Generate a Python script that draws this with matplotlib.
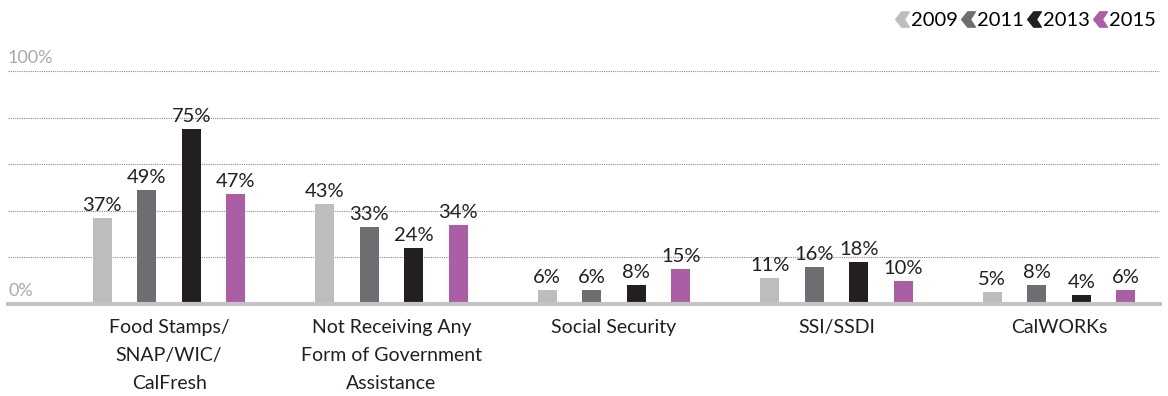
import numpy as np
import matplotlib.pyplot as plt
from matplotlib.lines import Line2D
from matplotlib.path import Path

plt.rcParams['font.family'] = ['Lato', 'DejaVu Sans']

categories = [
    "Food Stamps/\nSNAP/WIC/\nCalFresh",
    "Not Receiving Any\nForm of Government\nAssistance",
    "Social Security",
    "SSI/SSDI",
    "CalWORKs",
]
years = ["2009", "2011", "2013", "2015"]
values_2009 = [37, 43, 6, 11, 5]
values_2011 = [49, 33, 6, 16, 8]
values_2013 = [75, 24, 8, 18, 4]
values_2015 = [47, 34, 15, 10, 6]
colors = ["#bcbdbf", "#6d6e71", "#231f20", "#ab5ea6"]

series = [values_2009, values_2011, values_2013, values_2015]

fig = plt.figure(figsize=(11.68, 3.96), dpi=100)
ax = fig.add_axes([0.00685, 0.2323, 0.9863, 0.5884])

x = np.arange(len(categories))
offsets = np.array([-1.5, -0.5, 0.5, 1.5]) * 0.2
width = 0.086

for vals, off, col in zip(series, offsets, colors):
    bars = ax.bar(x + off, vals, width, color=col, zorder=3)
    for b, v in zip(bars, vals):
        ax.annotate(f"{v}%", (b.get_x() + b.get_width() / 2, v),
                    xytext=(0, 3), textcoords="offset points",
                    ha="center", va="bottom", fontsize=14.5, color="#231f20")

ax.set_xlim(-0.724, 4.454)
ax.set_ylim(0, 100)

# dotted gridlines and a solid baseline
for g in [20, 40, 60, 80, 100]:
    ax.axhline(g, color="#8a8a8a", lw=0.8, ls=(0, (1, 1)), zorder=1)
ax.axhline(0, color="#c4c4c4", lw=3, zorder=4, clip_on=False)

trans = ax.get_yaxis_transform()
ax.text(0.0, 102, "100%", transform=trans, ha="left", va="bottom",
        fontsize=13, color="#a7a9ac")
ax.text(0.0, 2, "0%", transform=trans, ha="left", va="bottom",
        fontsize=13, color="#a7a9ac")

for xi, label in zip(x, categories):
    ax.text(xi, -6.5, label, ha="center", va="top", fontsize=14,
            color="#231f20", linespacing=1.78)

for s in ax.spines.values():
    s.set_visible(False)
ax.set_xticks([])
ax.set_yticks([])

# chevron-shaped legend markers, centred on the origin
chevron = Path([(0.9, 1.0), (-0.1, 1.0), (-0.9, 0.0), (-0.1, -1.0),
                (0.9, -1.0), (0.25, 0.0), (0.9, 1.0)],
               [Path.MOVETO] + [Path.LINETO] * 5 + [Path.CLOSEPOLY])
handles = [Line2D([], [], marker=chevron, color=c, ls="none", markersize=11)
           for c in colors]
fig.legend(handles, years, loc="upper right", bbox_to_anchor=(1.0, 1.0),
           ncol=4, frameon=False, fontsize=14.5, handletextpad=0.1,
           columnspacing=0.15, handlelength=0.7, borderaxespad=0.2)

fig.savefig("out.png", dpi=100)
